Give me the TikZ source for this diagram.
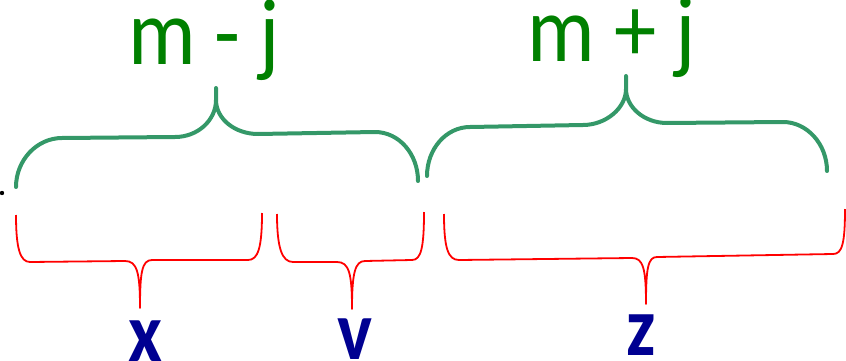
\documentclass[tikz,border=0pt]{standalone}
\usepackage{fontspec}
\setmainfont{Carlito}
\definecolor{bracegreen}{RGB}{52,152,104}
\definecolor{textgreen}{RGB}{0,128,0}
\definecolor{textblue}{RGB}{0,0,145}
\begin{document}
\begin{tikzpicture}[x=1pt,y=-1pt,
  gbrace/.style={draw=bracegreen,line width=4pt,line cap=round,line join=round},
  rbrace/.style={draw=red,line width=1.8pt,line join=round},
  glbl/.style={text=textgreen,inner sep=0pt,anchor=base,font=\fontsize{94}{94}\selectfont},
  blbl/.style={text=textblue,inner sep=0pt,anchor=base,font=\fontsize{84}{84}\selectfont\bfseries}]
\useasboundingbox (0,0) rectangle (846,361);
% stray dot
\fill[black] (2,193) circle (2.2pt);
% green braces
\coordinate (g1tip) at (216,88);
\coordinate (g2tip) at (626,76);
\path[gbrace] (16,187) .. controls (16,160) and (37,138) .. (62,138) -- (175,137)
  .. controls (198,137) and (216,120) .. (216,100) -- (g1tip) -- (216,100)
  .. controls (216,119) and (235,134) .. (258,134) -- (375,132)
  .. controls (399,132) and (418,154) .. (418,181);
\path[gbrace] (427,176) .. controls (427,149) and (446,127) .. (470,127) -- (583,125)
  .. controls (606,125) and (626,108) .. (626,89) -- (g2tip) -- (626,89)
  .. controls (626,107) and (644,123) .. (667,123) -- (783,122)
  .. controls (807,122) and (827,144) .. (827,171);
% red braces
\coordinate (r1tip) at (140,308);
\coordinate (r2tip) at (352,309);
\coordinate (r3tip) at (646,304);
\path[rbrace] (16,215) .. controls (16,248) and (20,262) .. (30,262) -- (125,261)
  .. controls (137,261) and (140,272) .. (r1tip)
  .. controls (140,272) and (142,260) .. (152,260) -- (248,260)
  .. controls (258,260) and (262,248) .. (262,213);
\path[rbrace] (277,214) .. controls (277,248) and (282,262) .. (293,262) -- (337,262)
  .. controls (349,262) and (352,273) .. (r2tip)
  .. controls (352,273) and (355,261) .. (365,261) -- (412,260)
  .. controls (421,260) and (424,248) .. (424,212);
\path[rbrace] (444,214) .. controls (444,248) and (448,260) .. (459,260) -- (632,258)
  .. controls (643,258) and (646,268) .. (r3tip)
  .. controls (646,268) and (648,257) .. (657,257) -- (833,254)
  .. controls (842,254) and (845,244) .. (845,209);
% labels
\node[glbl] (mminus) at (204,64) {\scalebox{0.9}[1]{m - j}};
\node[glbl] (mplus) at (612,62) {\scalebox{0.9}[1]{m + j}};
\node[blbl] (lx) at (145.5,361) {\scalebox{0.88}[1]{x}};
\node[blbl] (lv) at (355,359) {\scalebox{0.88}[1]{v}};
\node[blbl] (lz) at (641,355) {\scalebox{0.88}[1]{z}};
\end{tikzpicture}
\end{document}
